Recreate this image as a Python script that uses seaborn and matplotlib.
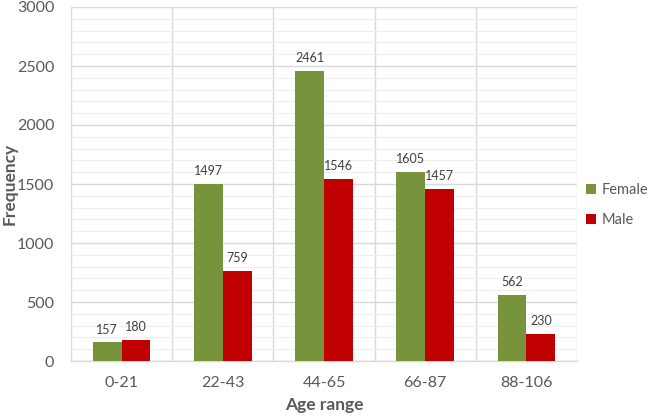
import matplotlib
matplotlib.use("Agg")
import matplotlib.pyplot as plt
import seaborn as sns
import pandas as pd
from matplotlib.ticker import MultipleLocator, FixedLocator

categories = ["0-21", "22-43", "44-65", "66-87", "88-106"]
female = [157, 1497, 2461, 1605, 562]
male = [180, 759, 1546, 1457, 230]
series = ["Female", "Male"]
colors = ["#77933C", "#C00000"]

df = pd.DataFrame({
    "Age range": categories * 2,
    "Frequency": female + male,
    "Sex": ["Female"] * len(categories) + ["Male"] * len(categories),
})

sns.set_style("white")
plt.rcParams["font.family"] = ["Lato", "DejaVu Sans"]
text_color = "#595959"

fig = plt.figure(figsize=(6.48, 4.19), dpi=100)
ax = fig.add_axes([71/648, 1-361/419, (577-71)/648, (361-7)/419])

sns.barplot(data=df, x="Age range", y="Frequency", hue="Sex", order=categories,
            hue_order=series, palette=colors, width=0.57, gap=0, saturation=1,
            ax=ax, zorder=3, edgecolor="none")

for cont in ax.containers:
    ax.bar_label(cont, fmt="%d", padding=5, fontsize=9, color="#404040")

ax.set_xlim(-0.5, len(categories) - 0.5)
ax.set_ylim(0, 3000)
ax.yaxis.set_major_locator(MultipleLocator(500))
ax.yaxis.set_minor_locator(MultipleLocator(100))
ax.xaxis.set_minor_locator(FixedLocator([i - 0.5 for i in range(len(categories) + 1)]))

ax.grid(which="major", axis="y", color="#d9d9d9", linewidth=1.0, zorder=0)
ax.grid(which="minor", axis="y", color="#eeeeee", linewidth=0.8, zorder=0)
ax.grid(which="minor", axis="x", color="#d9d9d9", linewidth=1.0, zorder=0)
ax.grid(which="major", axis="x", visible=False)
ax.set_axisbelow(True)

for s in ["top", "right", "left"]:
    ax.spines[s].set_visible(False)
ax.spines["bottom"].set_color("#d9d9d9")
ax.spines["bottom"].set_linewidth(1.0)

ax.tick_params(axis="x", which="major", length=0, pad=11, labelsize=11.5, labelcolor=text_color)
ax.tick_params(axis="x", which="minor", length=5, color="#d9d9d9", width=1)
ax.tick_params(axis="y", which="both", length=0, pad=12, labelsize=11.5, labelcolor=text_color)

ax.set_xlabel("Age range", fontsize=12.5, fontweight="bold", color=text_color, va="center")
ax.xaxis.set_label_coords(0.5, -(405 - 361) / 354)
ax.set_ylabel("Frequency", fontsize=12.5, fontweight="bold", color=text_color, va="center")
ax.yaxis.set_label_coords(-(71 - 10) / 506, 0.5)

handles, labels = ax.get_legend_handles_labels()
ax.legend_.remove()
fig.legend(handles, labels, loc="center left", bbox_to_anchor=(580 / 648, 1 - 205 / 419),
           frameon=False, fontsize=10.5, handlelength=0.7, handleheight=0.7,
           handletextpad=0.4, labelspacing=1.1, labelcolor=text_color, borderaxespad=0)

fig.savefig("out.png", dpi=100, facecolor="white")
